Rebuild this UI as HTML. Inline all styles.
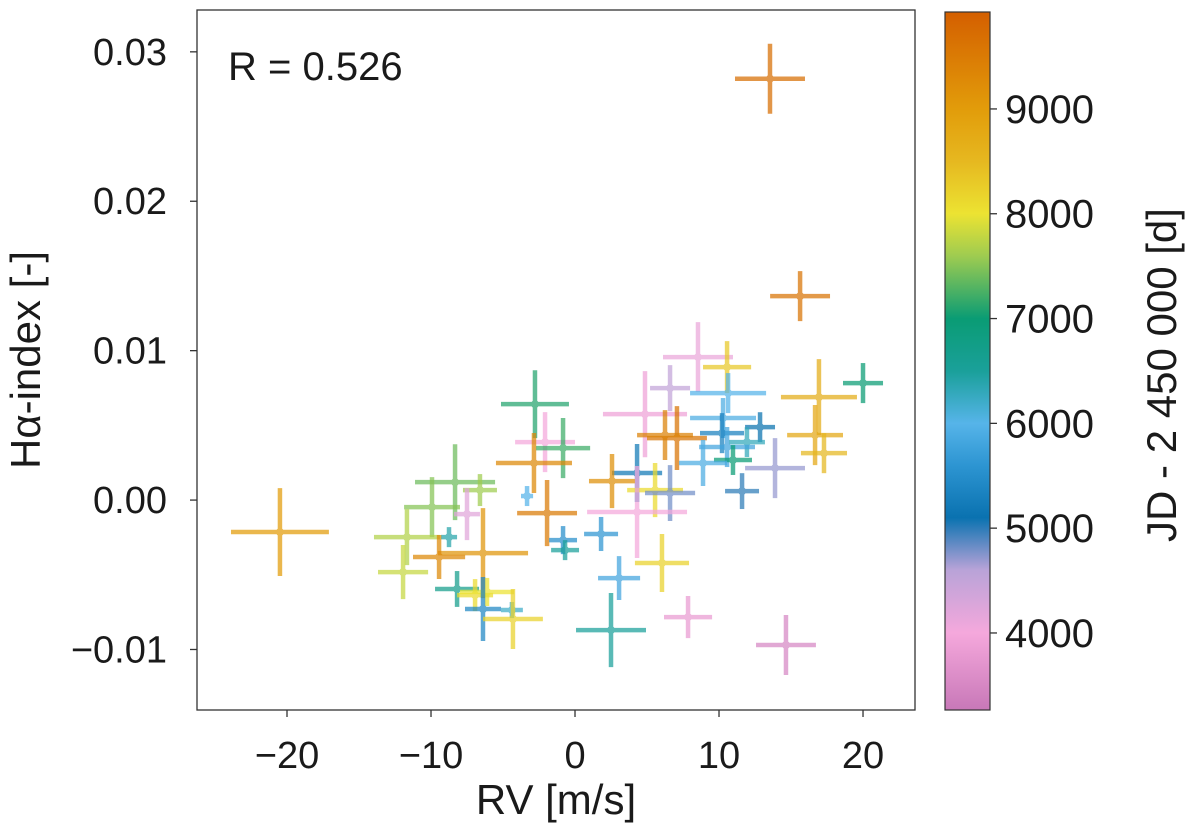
<!DOCTYPE html>
<html><head><meta charset="utf-8"><style>
body{margin:0;background:#fff;}
svg text{font-family:"Liberation Sans","DejaVu Sans",sans-serif;fill:#1a1a1a;}
</style></head><body>
<svg id="chart" width="1200" height="824" xmlns="http://www.w3.org/2000/svg">
<defs>
<linearGradient id="cbgrad" x1="0" y1="1" x2="0" y2="0"></linearGradient>
</defs>
<g id="marks"></g>
<rect x="197" y="10" width="718" height="700" fill="none" stroke="#333" stroke-width="1.3"/>
<g id="xticks"></g>
<g id="yticks"></g>
<text x="556" y="814" font-size="42" text-anchor="middle">RV [m/s]</text>
<text x="0" y="0" font-size="42" text-anchor="middle" transform="translate(40,360) rotate(-90)">Hα-index [-]</text>
<text x="228" y="80" font-size="40">R = 0.526</text>
<rect id="cbar" x="945" y="12" width="45" height="698" fill="url(#cbgrad)" stroke="#333" stroke-width="1.2"/>
<g id="cticks"></g>
<text x="0" y="0" font-size="42" text-anchor="middle" transform="translate(1176,375) rotate(-90)">JD - 2 450 000 [d]</text>
</svg>
<script>
const rv   = [13.54,15.63,20.0,-20.49,-2.78,-2.08,-0.83,-2.85,-8.33,-9.93,-6.60,-7.50,-3.33,-1.94,-8.75,-0.83,-0.69,-11.67,-6.39,-9.44,-11.94,-8.19,-6.94,-6.11,-6.39,-4.38,-4.31,8.54,10.56,6.60,10.63,4.86,10.28,12.85,7.08,6.25,10.21,16.94,16.67,17.29,11.94,10.56,10.97,8.89,13.89,11.60,4.31,2.57,5.56,6.60,4.31,1.81,3.06,6.04,2.50,7.85,14.65];
const ha   = [0.0282,0.01365,0.00783,-0.00214,0.00642,0.00388,0.00348,0.00248,0.00120,-0.00047,0.00067,-0.00094,0.00027,-0.00087,-0.00248,-0.00268,-0.00335,-0.00248,-0.00355,-0.00381,-0.00482,-0.00595,-0.00636,-0.00615,-0.00729,-0.00736,-0.00796,0.00957,0.00890,0.00749,0.00716,0.00575,0.00549,0.00488,0.00415,0.00435,0.00448,0.00689,0.00435,0.00314,0.00388,0.00355,0.00268,0.00248,0.00214,0.00060,0.00181,0.00127,0.00067,0.00047,-0.00080,-0.00227,-0.00522,-0.00421,-0.00870,-0.00783,-0.00970];
const rvErr = [2.43,2.08,1.39,3.40,2.36,2.08,1.88,2.64,2.78,1.94,1.18,0.90,0.42,2.08,0.56,0.97,0.97,2.29,3.13,1.81,1.74,1.53,1.25,1.88,1.25,0.76,2.08,2.43,1.67,1.39,2.64,2.92,2.29,1.04,2.08,1.94,1.53,2.64,1.94,1.60,1.25,1.94,1.32,1.67,2.08,1.18,1.74,1.60,1.94,1.74,3.47,1.18,1.46,1.88,2.43,1.67,2.08];
const haErr = [0.00234,0.00167,0.00134,0.00294,0.00227,0.00201,0.00201,0.00201,0.00254,0.00201,0.00107,0.00174,0.00067,0.00221,0.00067,0.00094,0.00067,0.00187,0.00301,0.00147,0.00181,0.00120,0.00107,0.00094,0.00214,0.00054,0.00201,0.00234,0.00174,0.00154,0.00134,0.00288,0.00134,0.00100,0.00214,0.00167,0.00134,0.00254,0.00201,0.00134,0.00100,0.00134,0.00100,0.00154,0.00201,0.00120,0.00194,0.00181,0.00181,0.00187,0.00308,0.00114,0.00147,0.00194,0.00248,0.00141,0.00201];
const jd   = [9700,9600,7000,9000,7100,4000,7200,9300,7400,7500,7600,4200,6000,9500,6400,5500,6500,7700,9100,9300,7800,6700,8100,8000,5400,6200,8200,4100,8300,4500,6000,3900,5900,5100,9600,9400,5300,8700,8800,8500,6300,5800,7000,5900,4700,5000,5200,9200,8100,4800,4000,5600,5800,8200,6500,3800,3500];
const xTicks = [-20,-10,0,10,20];
const xTickLabels = ["\u221220","\u221210","0","10","20"];
const yTicks = [0.03,0.02,0.01,0,-0.01];
const yTickLabels = ["0.03","0.02","0.01","0.00","\u22120.01"];
const cTicks = [9000,8000,7000,6000,5000,4000];
const cStops = [3265,4000,4600,5100,5600,6000,6500,7000,7600,8000,8500,9000,9925];
const cColors = ["#c878b8","#f5a8dc","#b9a3d8","#0a72b0","#2d95d2","#56b4e9","#1aa09a","#0a9c74","#9fcc50","#ece332","#e6b820","#e29c0a","#d45f00"];

const NS="http://www.w3.org/2000/svg";
const X0=197,X1=915,Y0=10,Y1=710;
const xMin=-26.25,xMax=23.61,yMin=-0.01405,yMax=0.0328;
const cMin=3265,cMax=9925,CY0=12,CY1=710;
function xs(v){return X0+(v-xMin)/(xMax-xMin)*(X1-X0);}
function ys(v){return Y1-(v-yMin)/(yMax-yMin)*(Y1-Y0);}
function cs(v){return CY1-(v-cMin)/(cMax-cMin)*(CY1-CY0);}
function hex(h){return [1,3,5].map(i=>parseInt(h.substr(i,2),16));}
function color(v){
  if(v<=cStops[0])return cColors[0];
  for(let i=1;i<cStops.length;i++){
    if(v<=cStops[i]){const t=(v-cStops[i-1])/(cStops[i]-cStops[i-1]);
      const a=hex(cColors[i-1]),b=hex(cColors[i]);
      return "rgb("+a.map((c,k)=>Math.round(c+(b[k]-c)*t)).join(",")+")";}
  }
  return cColors[cColors.length-1];
}
function mk(tag,attrs,parent){const e=document.createElementNS(NS,tag);for(const k in attrs)e.setAttribute(k,attrs[k]);parent.appendChild(e);return e;}

const grad=document.getElementById('cbgrad');
cStops.forEach((s,i)=>{mk('stop',{offset:((s-cMin)/(cMax-cMin)),'stop-color':cColors[i]},grad);});

const marks=document.getElementById('marks');
for(let i=0;i<rv.length;i++){
  const g=document.createElementNS(NS,'g');
  
  
  marks.appendChild(g);
  const c=color(jd[i]),cx=xs(rv[i]),cy=ys(ha[i]);
  g.setAttribute('opacity','0.72');
  mk('line',{x1:xs(rv[i]-rvErr[i]),x2:xs(rv[i]+rvErr[i]),y1:cy,y2:cy,stroke:c,'stroke-width':4.5},g);
  mk('line',{x1:cx,x2:cx,y1:ys(ha[i]-haErr[i]),y2:ys(ha[i]+haErr[i]),stroke:c,'stroke-width':4.5},g);
  mk('circle',{cx:cx,cy:cy,r:4,fill:c},g);
}
const xt=document.getElementById('xticks');
xTicks.forEach((v,i)=>{
  mk('line',{x1:xs(v),x2:xs(v),y1:Y1,y2:Y1+7,stroke:'#333','stroke-width':1.3},xt);
  const t=mk('text',{x:xs(v),y:Y1+58,'font-size':38,'text-anchor':'middle'},xt);
  
  
  t.textContent=xTickLabels[i];
});
const yt=document.getElementById('yticks');
yTicks.forEach((v,i)=>{
  mk('line',{x1:X0-7,x2:X0,y1:ys(v),y2:ys(v),stroke:'#333','stroke-width':1.3},yt);
  const t=mk('text',{x:X0-30,y:ys(v)+13,'font-size':38,'text-anchor':'end'},yt);
  
  
  t.textContent=yTickLabels[i];
});
const ct=document.getElementById('cticks');
cTicks.forEach(v=>{
  mk('line',{x1:990,x2:997,y1:cs(v),y2:cs(v),stroke:'#333','stroke-width':1.3},ct);
  const t=mk('text',{x:1005,y:cs(v)+14,'font-size':40},ct);
  
  
  t.textContent=String(v);
});
</script>
</body></html>
